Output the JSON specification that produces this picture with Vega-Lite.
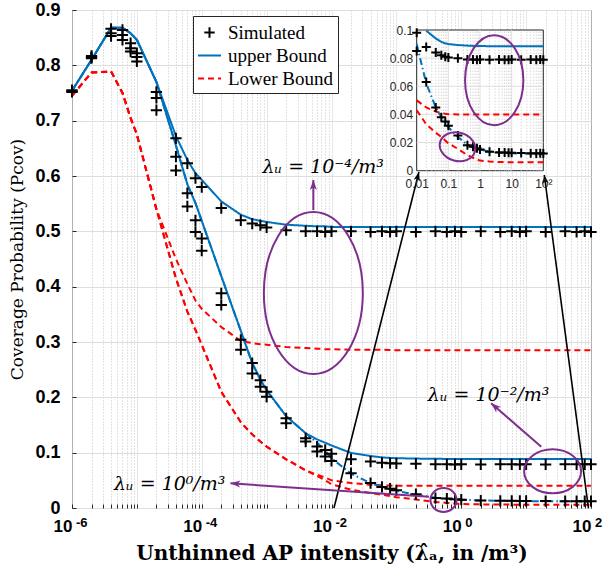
{
"$schema":"https://vega.github.io/schema/vega-lite/v6.json",
"width":519,"height":498,
"autosize":{"type":"none"},
"padding":{"left":72,"top":10,"right":17,"bottom":63},
"background":"white",
"datasets":{
"curves":[
{"x":1e-6,"y":0.755,"kind":"Simulated","lam":"1e-4"},{"x":2e-6,"y":0.817,"kind":"Simulated","lam":"1e-4"},{"x":4e-6,"y":0.866,"kind":"Simulated","lam":"1e-4"},{"x":6e-6,"y":0.864,"kind":"Simulated","lam":"1e-4"},{"x":8e-6,"y":0.840,"kind":"Simulated","lam":"1e-4"},{"x":1e-5,"y":0.822,"kind":"Simulated","lam":"1e-4"},{"x":2e-5,"y":0.752,"kind":"Simulated","lam":"1e-4"},{"x":4e-5,"y":0.668,"kind":"Simulated","lam":"1e-4"},{"x":6e-5,"y":0.623,"kind":"Simulated","lam":"1e-4"},{"x":8e-5,"y":0.596,"kind":"Simulated","lam":"1e-4"},{"x":1e-4,"y":0.580,"kind":"Simulated","lam":"1e-4"},{"x":2e-4,"y":0.542,"kind":"Simulated","lam":"1e-4"},{"x":4e-4,"y":0.520,"kind":"Simulated","lam":"1e-4"},{"x":6e-4,"y":0.514,"kind":"Simulated","lam":"1e-4"},{"x":8e-4,"y":0.511,"kind":"Simulated","lam":"1e-4"},{"x":0.001,"y":0.507,"kind":"Simulated","lam":"1e-4"},{"x":0.002,"y":0.502,"kind":"Simulated","lam":"1e-4"},{"x":0.004,"y":0.500,"kind":"Simulated","lam":"1e-4"},{"x":0.006,"y":0.500,"kind":"Simulated","lam":"1e-4"},{"x":0.008,"y":0.499,"kind":"Simulated","lam":"1e-4"},{"x":0.01,"y":0.500,"kind":"Simulated","lam":"1e-4"},{"x":0.02,"y":0.500,"kind":"Simulated","lam":"1e-4"},{"x":0.04,"y":0.499,"kind":"Simulated","lam":"1e-4"},{"x":0.06,"y":0.500,"kind":"Simulated","lam":"1e-4"},{"x":0.08,"y":0.499,"kind":"Simulated","lam":"1e-4"},{"x":0.1,"y":0.500,"kind":"Simulated","lam":"1e-4"},{"x":0.2,"y":0.499,"kind":"Simulated","lam":"1e-4"},{"x":0.4,"y":0.500,"kind":"Simulated","lam":"1e-4"},{"x":0.6,"y":0.499,"kind":"Simulated","lam":"1e-4"},{"x":0.8,"y":0.500,"kind":"Simulated","lam":"1e-4"},{"x":1,"y":0.499,"kind":"Simulated","lam":"1e-4"},{"x":2,"y":0.500,"kind":"Simulated","lam":"1e-4"},{"x":4,"y":0.499,"kind":"Simulated","lam":"1e-4"},{"x":6,"y":0.500,"kind":"Simulated","lam":"1e-4"},{"x":8,"y":0.499,"kind":"Simulated","lam":"1e-4"},{"x":10,"y":0.500,"kind":"Simulated","lam":"1e-4"},{"x":20,"y":0.499,"kind":"Simulated","lam":"1e-4"},{"x":40,"y":0.500,"kind":"Simulated","lam":"1e-4"},{"x":60,"y":0.499,"kind":"Simulated","lam":"1e-4"},{"x":80,"y":0.500,"kind":"Simulated","lam":"1e-4"},{"x":100,"y":0.499,"kind":"Simulated","lam":"1e-4"},
{"x":1e-6,"y":0.753,"kind":"Simulated","lam":"1e-2"},{"x":2e-6,"y":0.815,"kind":"Simulated","lam":"1e-2"},{"x":4e-6,"y":0.858,"kind":"Simulated","lam":"1e-2"},{"x":6e-6,"y":0.855,"kind":"Simulated","lam":"1e-2"},{"x":8e-6,"y":0.831,"kind":"Simulated","lam":"1e-2"},{"x":1e-5,"y":0.815,"kind":"Simulated","lam":"1e-2"},{"x":2e-5,"y":0.741,"kind":"Simulated","lam":"1e-2"},{"x":4e-5,"y":0.635,"kind":"Simulated","lam":"1e-2"},{"x":6e-5,"y":0.569,"kind":"Simulated","lam":"1e-2"},{"x":8e-5,"y":0.520,"kind":"Simulated","lam":"1e-2"},{"x":1e-4,"y":0.487,"kind":"Simulated","lam":"1e-2"},{"x":2e-4,"y":0.388,"kind":"Simulated","lam":"1e-2"},{"x":4e-4,"y":0.304,"kind":"Simulated","lam":"1e-2"},{"x":6e-4,"y":0.262,"kind":"Simulated","lam":"1e-2"},{"x":8e-4,"y":0.231,"kind":"Simulated","lam":"1e-2"},{"x":0.001,"y":0.210,"kind":"Simulated","lam":"1e-2"},{"x":0.002,"y":0.162,"kind":"Simulated","lam":"1e-2"},{"x":0.004,"y":0.126,"kind":"Simulated","lam":"1e-2"},{"x":0.006,"y":0.111,"kind":"Simulated","lam":"1e-2"},{"x":0.008,"y":0.105,"kind":"Simulated","lam":"1e-2"},{"x":0.01,"y":0.098,"kind":"Simulated","lam":"1e-2"},{"x":0.02,"y":0.088,"kind":"Simulated","lam":"1e-2"},{"x":0.04,"y":0.084,"kind":"Simulated","lam":"1e-2"},{"x":0.06,"y":0.082,"kind":"Simulated","lam":"1e-2"},{"x":0.08,"y":0.081,"kind":"Simulated","lam":"1e-2"},{"x":0.1,"y":0.0805,"kind":"Simulated","lam":"1e-2"},{"x":0.2,"y":0.0800,"kind":"Simulated","lam":"1e-2"},{"x":0.4,"y":0.0790,"kind":"Simulated","lam":"1e-2"},{"x":0.6,"y":0.0790,"kind":"Simulated","lam":"1e-2"},{"x":0.8,"y":0.0788,"kind":"Simulated","lam":"1e-2"},{"x":1,"y":0.0790,"kind":"Simulated","lam":"1e-2"},{"x":2,"y":0.0788,"kind":"Simulated","lam":"1e-2"},{"x":4,"y":0.0790,"kind":"Simulated","lam":"1e-2"},{"x":6,"y":0.0789,"kind":"Simulated","lam":"1e-2"},{"x":8,"y":0.0788,"kind":"Simulated","lam":"1e-2"},{"x":10,"y":0.0790,"kind":"Simulated","lam":"1e-2"},{"x":20,"y":0.0788,"kind":"Simulated","lam":"1e-2"},{"x":40,"y":0.0790,"kind":"Simulated","lam":"1e-2"},{"x":60,"y":0.0789,"kind":"Simulated","lam":"1e-2"},{"x":80,"y":0.0790,"kind":"Simulated","lam":"1e-2"},{"x":100,"y":0.0789,"kind":"Simulated","lam":"1e-2"},
{"x":1e-6,"y":0.752,"kind":"Simulated","lam":"1e0"},{"x":2e-6,"y":0.813,"kind":"Simulated","lam":"1e0"},{"x":4e-6,"y":0.853,"kind":"Simulated","lam":"1e0"},{"x":6e-6,"y":0.846,"kind":"Simulated","lam":"1e0"},{"x":8e-6,"y":0.825,"kind":"Simulated","lam":"1e0"},{"x":1e-5,"y":0.807,"kind":"Simulated","lam":"1e0"},{"x":2e-5,"y":0.719,"kind":"Simulated","lam":"1e0"},{"x":4e-5,"y":0.610,"kind":"Simulated","lam":"1e0"},{"x":6e-5,"y":0.545,"kind":"Simulated","lam":"1e0"},{"x":8e-5,"y":0.499,"kind":"Simulated","lam":"1e0"},{"x":1e-4,"y":0.465,"kind":"Simulated","lam":"1e0"},{"x":2e-4,"y":0.367,"kind":"Simulated","lam":"1e0"},{"x":4e-4,"y":0.286,"kind":"Simulated","lam":"1e0"},{"x":6e-4,"y":0.243,"kind":"Simulated","lam":"1e0"},{"x":8e-4,"y":0.219,"kind":"Simulated","lam":"1e0"},{"x":0.001,"y":0.201,"kind":"Simulated","lam":"1e0"},{"x":0.002,"y":0.153,"kind":"Simulated","lam":"1e0"},{"x":0.004,"y":0.120,"kind":"Simulated","lam":"1e0"},{"x":0.006,"y":0.102,"kind":"Simulated","lam":"1e0"},{"x":0.008,"y":0.093,"kind":"Simulated","lam":"1e0"},{"x":0.01,"y":0.085,"kind":"Simulated","lam":"1e0"},{"x":0.02,"y":0.063,"kind":"Simulated","lam":"1e0"},{"x":0.04,"y":0.045,"kind":"Simulated","lam":"1e0"},{"x":0.06,"y":0.038,"kind":"Simulated","lam":"1e0"},{"x":0.08,"y":0.035,"kind":"Simulated","lam":"1e0"},{"x":0.1,"y":0.032,"kind":"Simulated","lam":"1e0"},{"x":0.2,"y":0.025,"kind":"Simulated","lam":"1e0"},{"x":0.4,"y":0.018,"kind":"Simulated","lam":"1e0"},{"x":0.6,"y":0.017,"kind":"Simulated","lam":"1e0"},{"x":0.8,"y":0.016,"kind":"Simulated","lam":"1e0"},{"x":1,"y":0.015,"kind":"Simulated","lam":"1e0"},{"x":2,"y":0.0135,"kind":"Simulated","lam":"1e0"},{"x":4,"y":0.013,"kind":"Simulated","lam":"1e0"},{"x":6,"y":0.013,"kind":"Simulated","lam":"1e0"},{"x":8,"y":0.0128,"kind":"Simulated","lam":"1e0"},{"x":10,"y":0.0128,"kind":"Simulated","lam":"1e0"},{"x":20,"y":0.0125,"kind":"Simulated","lam":"1e0"},{"x":40,"y":0.0124,"kind":"Simulated","lam":"1e0"},{"x":60,"y":0.0123,"kind":"Simulated","lam":"1e0"},{"x":80,"y":0.0124,"kind":"Simulated","lam":"1e0"},{"x":100,"y":0.0123,"kind":"Simulated","lam":"1e0"},
{"x":1e-6,"y":0.754,"kind":"upper Bound","lam":"1e-4"},{"x":2e-6,"y":0.810,"kind":"upper Bound","lam":"1e-4"},{"x":4e-6,"y":0.868,"kind":"upper Bound","lam":"1e-4"},{"x":6e-6,"y":0.868,"kind":"upper Bound","lam":"1e-4"},{"x":8e-6,"y":0.858,"kind":"upper Bound","lam":"1e-4"},{"x":1e-5,"y":0.846,"kind":"upper Bound","lam":"1e-4"},{"x":2e-5,"y":0.770,"kind":"upper Bound","lam":"1e-4"},{"x":4e-5,"y":0.672,"kind":"upper Bound","lam":"1e-4"},{"x":6e-5,"y":0.629,"kind":"upper Bound","lam":"1e-4"},{"x":8e-5,"y":0.605,"kind":"upper Bound","lam":"1e-4"},{"x":1e-4,"y":0.593,"kind":"upper Bound","lam":"1e-4"},{"x":2e-4,"y":0.554,"kind":"upper Bound","lam":"1e-4"},{"x":4e-4,"y":0.530,"kind":"upper Bound","lam":"1e-4"},{"x":6e-4,"y":0.522,"kind":"upper Bound","lam":"1e-4"},{"x":8e-4,"y":0.519,"kind":"upper Bound","lam":"1e-4"},{"x":0.001,"y":0.517,"kind":"upper Bound","lam":"1e-4"},{"x":0.002,"y":0.512,"kind":"upper Bound","lam":"1e-4"},{"x":0.004,"y":0.510,"kind":"upper Bound","lam":"1e-4"},{"x":0.006,"y":0.509,"kind":"upper Bound","lam":"1e-4"},{"x":0.008,"y":0.509,"kind":"upper Bound","lam":"1e-4"},{"x":0.01,"y":0.508,"kind":"upper Bound","lam":"1e-4"},{"x":0.02,"y":0.508,"kind":"upper Bound","lam":"1e-4"},{"x":0.04,"y":0.508,"kind":"upper Bound","lam":"1e-4"},{"x":0.06,"y":0.508,"kind":"upper Bound","lam":"1e-4"},{"x":0.08,"y":0.508,"kind":"upper Bound","lam":"1e-4"},{"x":0.1,"y":0.508,"kind":"upper Bound","lam":"1e-4"},{"x":0.2,"y":0.508,"kind":"upper Bound","lam":"1e-4"},{"x":0.4,"y":0.508,"kind":"upper Bound","lam":"1e-4"},{"x":0.6,"y":0.508,"kind":"upper Bound","lam":"1e-4"},{"x":0.8,"y":0.508,"kind":"upper Bound","lam":"1e-4"},{"x":1,"y":0.508,"kind":"upper Bound","lam":"1e-4"},{"x":2,"y":0.508,"kind":"upper Bound","lam":"1e-4"},{"x":4,"y":0.508,"kind":"upper Bound","lam":"1e-4"},{"x":6,"y":0.508,"kind":"upper Bound","lam":"1e-4"},{"x":8,"y":0.508,"kind":"upper Bound","lam":"1e-4"},{"x":10,"y":0.508,"kind":"upper Bound","lam":"1e-4"},{"x":20,"y":0.508,"kind":"upper Bound","lam":"1e-4"},{"x":40,"y":0.508,"kind":"upper Bound","lam":"1e-4"},{"x":60,"y":0.508,"kind":"upper Bound","lam":"1e-4"},{"x":80,"y":0.508,"kind":"upper Bound","lam":"1e-4"},{"x":100,"y":0.508,"kind":"upper Bound","lam":"1e-4"},
{"x":1e-6,"y":0.754,"kind":"upper Bound","lam":"1e-2"},{"x":2e-6,"y":0.810,"kind":"upper Bound","lam":"1e-2"},{"x":4e-6,"y":0.868,"kind":"upper Bound","lam":"1e-2"},{"x":6e-6,"y":0.868,"kind":"upper Bound","lam":"1e-2"},{"x":8e-6,"y":0.858,"kind":"upper Bound","lam":"1e-2"},{"x":1e-5,"y":0.846,"kind":"upper Bound","lam":"1e-2"},{"x":2e-5,"y":0.770,"kind":"upper Bound","lam":"1e-2"},{"x":4e-5,"y":0.655,"kind":"upper Bound","lam":"1e-2"},{"x":6e-5,"y":0.585,"kind":"upper Bound","lam":"1e-2"},{"x":8e-5,"y":0.551,"kind":"upper Bound","lam":"1e-2"},{"x":1e-4,"y":0.519,"kind":"upper Bound","lam":"1e-2"},{"x":2e-4,"y":0.419,"kind":"upper Bound","lam":"1e-2"},{"x":4e-4,"y":0.320,"kind":"upper Bound","lam":"1e-2"},{"x":6e-4,"y":0.262,"kind":"upper Bound","lam":"1e-2"},{"x":8e-4,"y":0.232,"kind":"upper Bound","lam":"1e-2"},{"x":0.001,"y":0.213,"kind":"upper Bound","lam":"1e-2"},{"x":0.002,"y":0.166,"kind":"upper Bound","lam":"1e-2"},{"x":0.004,"y":0.135,"kind":"upper Bound","lam":"1e-2"},{"x":0.006,"y":0.124,"kind":"upper Bound","lam":"1e-2"},{"x":0.008,"y":0.118,"kind":"upper Bound","lam":"1e-2"},{"x":0.01,"y":0.113,"kind":"upper Bound","lam":"1e-2"},{"x":0.02,"y":0.0995,"kind":"upper Bound","lam":"1e-2"},{"x":0.04,"y":0.094,"kind":"upper Bound","lam":"1e-2"},{"x":0.06,"y":0.0915,"kind":"upper Bound","lam":"1e-2"},{"x":0.08,"y":0.0905,"kind":"upper Bound","lam":"1e-2"},{"x":0.1,"y":0.090,"kind":"upper Bound","lam":"1e-2"},{"x":0.2,"y":0.0893,"kind":"upper Bound","lam":"1e-2"},{"x":0.4,"y":0.0889,"kind":"upper Bound","lam":"1e-2"},{"x":0.6,"y":0.0887,"kind":"upper Bound","lam":"1e-2"},{"x":0.8,"y":0.0886,"kind":"upper Bound","lam":"1e-2"},{"x":1,"y":0.0886,"kind":"upper Bound","lam":"1e-2"},{"x":2,"y":0.0885,"kind":"upper Bound","lam":"1e-2"},{"x":4,"y":0.0885,"kind":"upper Bound","lam":"1e-2"},{"x":6,"y":0.0885,"kind":"upper Bound","lam":"1e-2"},{"x":8,"y":0.0885,"kind":"upper Bound","lam":"1e-2"},{"x":10,"y":0.0885,"kind":"upper Bound","lam":"1e-2"},{"x":20,"y":0.0885,"kind":"upper Bound","lam":"1e-2"},{"x":40,"y":0.0885,"kind":"upper Bound","lam":"1e-2"},{"x":60,"y":0.0885,"kind":"upper Bound","lam":"1e-2"},{"x":80,"y":0.0885,"kind":"upper Bound","lam":"1e-2"},{"x":100,"y":0.0885,"kind":"upper Bound","lam":"1e-2"},
{"x":1e-6,"y":0.754,"kind":"upper Bound","lam":"1e0"},{"x":2e-6,"y":0.810,"kind":"upper Bound","lam":"1e0"},{"x":4e-6,"y":0.868,"kind":"upper Bound","lam":"1e0"},{"x":6e-6,"y":0.868,"kind":"upper Bound","lam":"1e0"},{"x":8e-6,"y":0.858,"kind":"upper Bound","lam":"1e0"},{"x":1e-5,"y":0.846,"kind":"upper Bound","lam":"1e0"},{"x":2e-5,"y":0.770,"kind":"upper Bound","lam":"1e0"},{"x":4e-5,"y":0.655,"kind":"upper Bound","lam":"1e0"},{"x":6e-5,"y":0.585,"kind":"upper Bound","lam":"1e0"},{"x":8e-5,"y":0.551,"kind":"upper Bound","lam":"1e0"},{"x":1e-4,"y":0.519,"kind":"upper Bound","lam":"1e0"},{"x":2e-4,"y":0.419,"kind":"upper Bound","lam":"1e0"},{"x":4e-4,"y":0.320,"kind":"upper Bound","lam":"1e0"},{"x":6e-4,"y":0.262,"kind":"upper Bound","lam":"1e0"},{"x":8e-4,"y":0.232,"kind":"upper Bound","lam":"1e0"},{"x":0.001,"y":0.213,"kind":"upper Bound","lam":"1e0"},{"x":0.002,"y":0.166,"kind":"upper Bound","lam":"1e0"},{"x":0.004,"y":0.135,"kind":"upper Bound","lam":"1e0"},{"x":0.006,"y":0.118,"kind":"upper Bound","lam":"1e0"},{"x":0.008,"y":0.104,"kind":"upper Bound","lam":"1e0"},{"x":0.01,"y":0.090,"kind":"upper Bound","lam":"1e0"},{"x":0.02,"y":0.062,"kind":"upper Bound","lam":"1e0"},{"x":0.04,"y":0.045,"kind":"upper Bound","lam":"1e0"},{"x":0.06,"y":0.038,"kind":"upper Bound","lam":"1e0"},{"x":0.08,"y":0.034,"kind":"upper Bound","lam":"1e0"},{"x":0.1,"y":0.031,"kind":"upper Bound","lam":"1e0"},{"x":0.2,"y":0.024,"kind":"upper Bound","lam":"1e0"},{"x":0.4,"y":0.0185,"kind":"upper Bound","lam":"1e0"},{"x":0.6,"y":0.0165,"kind":"upper Bound","lam":"1e0"},{"x":0.8,"y":0.0155,"kind":"upper Bound","lam":"1e0"},{"x":1,"y":0.015,"kind":"upper Bound","lam":"1e0"},{"x":2,"y":0.0137,"kind":"upper Bound","lam":"1e0"},{"x":4,"y":0.013,"kind":"upper Bound","lam":"1e0"},{"x":6,"y":0.0127,"kind":"upper Bound","lam":"1e0"},{"x":8,"y":0.0125,"kind":"upper Bound","lam":"1e0"},{"x":10,"y":0.0124,"kind":"upper Bound","lam":"1e0"},{"x":20,"y":0.0122,"kind":"upper Bound","lam":"1e0"},{"x":40,"y":0.0121,"kind":"upper Bound","lam":"1e0"},{"x":60,"y":0.0121,"kind":"upper Bound","lam":"1e0"},{"x":80,"y":0.012,"kind":"upper Bound","lam":"1e0"},{"x":100,"y":0.012,"kind":"upper Bound","lam":"1e0"},
{"x":1e-6,"y":0.745,"kind":"Lower Bound","lam":"1e-4"},{"x":2e-6,"y":0.787,"kind":"Lower Bound","lam":"1e-4"},{"x":4e-6,"y":0.789,"kind":"Lower Bound","lam":"1e-4"},{"x":6e-6,"y":0.750,"kind":"Lower Bound","lam":"1e-4"},{"x":8e-6,"y":0.705,"kind":"Lower Bound","lam":"1e-4"},{"x":1e-5,"y":0.675,"kind":"Lower Bound","lam":"1e-4"},{"x":2e-5,"y":0.540,"kind":"Lower Bound","lam":"1e-4"},{"x":4e-5,"y":0.450,"kind":"Lower Bound","lam":"1e-4"},{"x":6e-5,"y":0.405,"kind":"Lower Bound","lam":"1e-4"},{"x":8e-5,"y":0.375,"kind":"Lower Bound","lam":"1e-4"},{"x":1e-4,"y":0.360,"kind":"Lower Bound","lam":"1e-4"},{"x":2e-4,"y":0.327,"kind":"Lower Bound","lam":"1e-4"},{"x":4e-4,"y":0.302,"kind":"Lower Bound","lam":"1e-4"},{"x":6e-4,"y":0.298,"kind":"Lower Bound","lam":"1e-4"},{"x":8e-4,"y":0.296,"kind":"Lower Bound","lam":"1e-4"},{"x":0.001,"y":0.295,"kind":"Lower Bound","lam":"1e-4"},{"x":0.002,"y":0.291,"kind":"Lower Bound","lam":"1e-4"},{"x":0.004,"y":0.289,"kind":"Lower Bound","lam":"1e-4"},{"x":0.006,"y":0.288,"kind":"Lower Bound","lam":"1e-4"},{"x":0.008,"y":0.287,"kind":"Lower Bound","lam":"1e-4"},{"x":0.01,"y":0.287,"kind":"Lower Bound","lam":"1e-4"},{"x":0.02,"y":0.286,"kind":"Lower Bound","lam":"1e-4"},{"x":0.04,"y":0.286,"kind":"Lower Bound","lam":"1e-4"},{"x":0.06,"y":0.286,"kind":"Lower Bound","lam":"1e-4"},{"x":0.08,"y":0.2855,"kind":"Lower Bound","lam":"1e-4"},{"x":0.1,"y":0.285,"kind":"Lower Bound","lam":"1e-4"},{"x":0.2,"y":0.285,"kind":"Lower Bound","lam":"1e-4"},{"x":0.4,"y":0.285,"kind":"Lower Bound","lam":"1e-4"},{"x":0.6,"y":0.285,"kind":"Lower Bound","lam":"1e-4"},{"x":0.8,"y":0.285,"kind":"Lower Bound","lam":"1e-4"},{"x":1,"y":0.285,"kind":"Lower Bound","lam":"1e-4"},{"x":2,"y":0.285,"kind":"Lower Bound","lam":"1e-4"},{"x":4,"y":0.285,"kind":"Lower Bound","lam":"1e-4"},{"x":6,"y":0.285,"kind":"Lower Bound","lam":"1e-4"},{"x":8,"y":0.285,"kind":"Lower Bound","lam":"1e-4"},{"x":10,"y":0.285,"kind":"Lower Bound","lam":"1e-4"},{"x":20,"y":0.285,"kind":"Lower Bound","lam":"1e-4"},{"x":40,"y":0.285,"kind":"Lower Bound","lam":"1e-4"},{"x":60,"y":0.285,"kind":"Lower Bound","lam":"1e-4"},{"x":80,"y":0.285,"kind":"Lower Bound","lam":"1e-4"},{"x":100,"y":0.285,"kind":"Lower Bound","lam":"1e-4"},
{"x":1e-6,"y":0.745,"kind":"Lower Bound","lam":"1e-2"},{"x":2e-6,"y":0.787,"kind":"Lower Bound","lam":"1e-2"},{"x":4e-6,"y":0.789,"kind":"Lower Bound","lam":"1e-2"},{"x":6e-6,"y":0.750,"kind":"Lower Bound","lam":"1e-2"},{"x":8e-6,"y":0.705,"kind":"Lower Bound","lam":"1e-2"},{"x":1e-5,"y":0.675,"kind":"Lower Bound","lam":"1e-2"},{"x":2e-5,"y":0.540,"kind":"Lower Bound","lam":"1e-2"},{"x":4e-5,"y":0.415,"kind":"Lower Bound","lam":"1e-2"},{"x":6e-5,"y":0.355,"kind":"Lower Bound","lam":"1e-2"},{"x":8e-5,"y":0.322,"kind":"Lower Bound","lam":"1e-2"},{"x":1e-4,"y":0.295,"kind":"Lower Bound","lam":"1e-2"},{"x":2e-4,"y":0.210,"kind":"Lower Bound","lam":"1e-2"},{"x":4e-4,"y":0.155,"kind":"Lower Bound","lam":"1e-2"},{"x":6e-4,"y":0.133,"kind":"Lower Bound","lam":"1e-2"},{"x":8e-4,"y":0.120,"kind":"Lower Bound","lam":"1e-2"},{"x":0.001,"y":0.111,"kind":"Lower Bound","lam":"1e-2"},{"x":0.002,"y":0.088,"kind":"Lower Bound","lam":"1e-2"},{"x":0.004,"y":0.068,"kind":"Lower Bound","lam":"1e-2"},{"x":0.006,"y":0.060,"kind":"Lower Bound","lam":"1e-2"},{"x":0.008,"y":0.055,"kind":"Lower Bound","lam":"1e-2"},{"x":0.01,"y":0.050,"kind":"Lower Bound","lam":"1e-2"},{"x":0.02,"y":0.045,"kind":"Lower Bound","lam":"1e-2"},{"x":0.04,"y":0.042,"kind":"Lower Bound","lam":"1e-2"},{"x":0.06,"y":0.041,"kind":"Lower Bound","lam":"1e-2"},{"x":0.08,"y":0.0405,"kind":"Lower Bound","lam":"1e-2"},{"x":0.1,"y":0.0402,"kind":"Lower Bound","lam":"1e-2"},{"x":0.2,"y":0.040,"kind":"Lower Bound","lam":"1e-2"},{"x":0.4,"y":0.040,"kind":"Lower Bound","lam":"1e-2"},{"x":0.6,"y":0.040,"kind":"Lower Bound","lam":"1e-2"},{"x":0.8,"y":0.040,"kind":"Lower Bound","lam":"1e-2"},{"x":1,"y":0.040,"kind":"Lower Bound","lam":"1e-2"},{"x":2,"y":0.040,"kind":"Lower Bound","lam":"1e-2"},{"x":4,"y":0.040,"kind":"Lower Bound","lam":"1e-2"},{"x":6,"y":0.040,"kind":"Lower Bound","lam":"1e-2"},{"x":8,"y":0.040,"kind":"Lower Bound","lam":"1e-2"},{"x":10,"y":0.040,"kind":"Lower Bound","lam":"1e-2"},{"x":20,"y":0.040,"kind":"Lower Bound","lam":"1e-2"},{"x":40,"y":0.040,"kind":"Lower Bound","lam":"1e-2"},{"x":60,"y":0.040,"kind":"Lower Bound","lam":"1e-2"},{"x":80,"y":0.040,"kind":"Lower Bound","lam":"1e-2"},{"x":100,"y":0.040,"kind":"Lower Bound","lam":"1e-2"},
{"x":1e-6,"y":0.745,"kind":"Lower Bound","lam":"1e0"},{"x":2e-6,"y":0.787,"kind":"Lower Bound","lam":"1e0"},{"x":4e-6,"y":0.789,"kind":"Lower Bound","lam":"1e0"},{"x":6e-6,"y":0.750,"kind":"Lower Bound","lam":"1e0"},{"x":8e-6,"y":0.705,"kind":"Lower Bound","lam":"1e0"},{"x":1e-5,"y":0.675,"kind":"Lower Bound","lam":"1e0"},{"x":2e-5,"y":0.540,"kind":"Lower Bound","lam":"1e0"},{"x":4e-5,"y":0.415,"kind":"Lower Bound","lam":"1e0"},{"x":6e-5,"y":0.355,"kind":"Lower Bound","lam":"1e0"},{"x":8e-5,"y":0.322,"kind":"Lower Bound","lam":"1e0"},{"x":1e-4,"y":0.295,"kind":"Lower Bound","lam":"1e0"},{"x":2e-4,"y":0.210,"kind":"Lower Bound","lam":"1e0"},{"x":4e-4,"y":0.155,"kind":"Lower Bound","lam":"1e0"},{"x":6e-4,"y":0.133,"kind":"Lower Bound","lam":"1e0"},{"x":8e-4,"y":0.120,"kind":"Lower Bound","lam":"1e0"},{"x":0.001,"y":0.111,"kind":"Lower Bound","lam":"1e0"},{"x":0.002,"y":0.088,"kind":"Lower Bound","lam":"1e0"},{"x":0.004,"y":0.068,"kind":"Lower Bound","lam":"1e0"},{"x":0.006,"y":0.058,"kind":"Lower Bound","lam":"1e0"},{"x":0.008,"y":0.050,"kind":"Lower Bound","lam":"1e0"},{"x":0.01,"y":0.043,"kind":"Lower Bound","lam":"1e0"},{"x":0.02,"y":0.033,"kind":"Lower Bound","lam":"1e0"},{"x":0.04,"y":0.027,"kind":"Lower Bound","lam":"1e0"},{"x":0.06,"y":0.024,"kind":"Lower Bound","lam":"1e0"},{"x":0.08,"y":0.0215,"kind":"Lower Bound","lam":"1e0"},{"x":0.1,"y":0.0195,"kind":"Lower Bound","lam":"1e0"},{"x":0.2,"y":0.0155,"kind":"Lower Bound","lam":"1e0"},{"x":0.4,"y":0.011,"kind":"Lower Bound","lam":"1e0"},{"x":0.6,"y":0.0092,"kind":"Lower Bound","lam":"1e0"},{"x":0.8,"y":0.008,"kind":"Lower Bound","lam":"1e0"},{"x":1,"y":0.0072,"kind":"Lower Bound","lam":"1e0"},{"x":2,"y":0.0066,"kind":"Lower Bound","lam":"1e0"},{"x":4,"y":0.0062,"kind":"Lower Bound","lam":"1e0"},{"x":6,"y":0.0061,"kind":"Lower Bound","lam":"1e0"},{"x":8,"y":0.006,"kind":"Lower Bound","lam":"1e0"},{"x":10,"y":0.006,"kind":"Lower Bound","lam":"1e0"},{"x":20,"y":0.006,"kind":"Lower Bound","lam":"1e0"},{"x":40,"y":0.006,"kind":"Lower Bound","lam":"1e0"},{"x":60,"y":0.006,"kind":"Lower Bound","lam":"1e0"},{"x":80,"y":0.006,"kind":"Lower Bound","lam":"1e0"},{"x":100,"y":0.006,"kind":"Lower Bound","lam":"1e0"}
],
"ellipses":[{"id":"E1","x":0.00525,"y":0.3886},{"id":"E4","x":25.6,"y":0.0663},{"id":"E5","x":0.533,"y":0.0145},{"id":"E2","x":2.81,"y":0.0643},{"id":"E3","x":0.1945,"y":0.017}],
"arrows":[{"id":"B1","x":0.0109,"y":0,"x2":0.2228,"y2":0.6073},{"id":"B2","x":91.2,"y":0,"x2":19.05,"y2":0.6018},{"id":"A1","x":0.00525,"y":0.5386,"x2":0.00525,"y2":0.5928},{"id":"A2","x":17.1,"y":0.1108,"x2":2.888,"y2":0.1892},{"id":"A3","x":0.318,"y":0.0204,"x2":0.0002767,"y2":0.0446}],
"notes":[{"x":0.00745,"y":0.6163,"t":"λᵤ = 10⁻⁴/m³"},{"x":2.64,"y":0.205,"t":"λᵤ = 10⁻²/m³"},{"x":0.0000321,"y":0.0425,"t":"λᵤ = 10⁰/m³"}],
"exps":[{"v":1e-6,"t":"-6"},{"v":1e-4,"t":"-4"},{"v":0.01,"t":"-2"},{"v":1,"t":"0"},{"v":100,"t":"2"}],
"igx":[{"v":0.02,"m":0},{"v":0.03,"m":0},{"v":0.04,"m":0},{"v":0.05,"m":0},{"v":0.06,"m":0},{"v":0.07,"m":0},{"v":0.08,"m":0},{"v":0.09,"m":0},{"v":0.1,"m":1},{"v":0.2,"m":0},{"v":0.3,"m":0},{"v":0.4,"m":0},{"v":0.5,"m":0},{"v":0.6,"m":0},{"v":0.7,"m":0},{"v":0.8,"m":0},{"v":0.9,"m":0},{"v":1,"m":1},{"v":2,"m":0},{"v":3,"m":0},{"v":4,"m":0},{"v":5,"m":0},{"v":6,"m":0},{"v":7,"m":0},{"v":8,"m":0},{"v":9,"m":0},{"v":10,"m":1},{"v":20,"m":0},{"v":30,"m":0},{"v":40,"m":0},{"v":50,"m":0},{"v":60,"m":0},{"v":70,"m":0},{"v":80,"m":0},{"v":90,"m":0}],
"igy":[{"v":0.02},{"v":0.04},{"v":0.06},{"v":0.08}]
},
"layer":[
{"layer":[
{"data":{"name":"curves"},
 "transform":[{"filter":"datum.kind != 'Simulated' && !(datum.kind == 'upper Bound' && datum.lam == '1e0')"}],
 "mark":{"type":"line","strokeWidth":2},
 "encoding":{
  "x":{"field":"x","type":"quantitative","scale":{"type":"log","domain":[1e-6,100],"nice":false},
   "axis":{"title":"Unthinned AP intensity (λ̂ₐ, in /m³)","orient":"bottom",
    "values":[1e-6,2e-6,3e-6,4e-6,5e-6,6e-6,7e-6,8e-6,9e-6,1e-5,2e-5,3e-5,4e-5,5e-5,6e-5,7e-5,8e-5,9e-5,1e-4,2e-4,3e-4,4e-4,5e-4,6e-4,7e-4,8e-4,9e-4,0.001,0.002,0.003,0.004,0.005,0.006,0.007,0.008,0.009,0.01,0.02,0.03,0.04,0.05,0.06,0.07,0.08,0.09,0.1,0.2,0.3,0.4,0.5,0.6,0.7,0.8,0.9,1,2,3,4,5,6,7,8,9,10,20,30,40,50,60,70,80,90,100],
    "labelExpr":"(abs(log(datum.value)/LN10 - round(log(datum.value)/LN10)) < 0.001 && round(log(datum.value)/LN10) % 2 == 0) ? '10' : ''",
    "labelFont":"Liberation Sans","labelFontWeight":"bold","labelFontSize":17,"labelColor":"#000",
    "labelOffset":-9.5,"labelPadding":14.5,"labelOverlap":false,"labelFlush":false,"labelBound":false,
    "ticks":true,"tickSize":-4,"tickColor":"#262626",
    "grid":true,
    "gridColor":{"condition":{"test":"abs(log(datum.value)/LN10 - round(log(datum.value)/LN10)) < 0.001","value":"#dedede"},"value":"#c4c4c4"},
    "gridDash":{"condition":{"test":"abs(log(datum.value)/LN10 - round(log(datum.value)/LN10)) < 0.001","value":[1,0]},"value":[1,2]},
    "domain":false,
    "titleFont":"DejaVu Serif","titleFontWeight":"bold","titleFontSize":20,"titleColor":"#000","titleY":51,"titleBaseline":"alphabetic"}},
  "y":{"field":"y","type":"quantitative","scale":{"domain":[0,0.9],"nice":false,"zero":false},
   "axis":{"title":"Coverage Probability (Pcov)","orient":"left",
    "values":[0,0.1,0.2,0.3,0.4,0.5,0.6,0.7,0.8,0.9],
    "labelExpr":"datum.value == 0 ? '0' : format(datum.value, '.1f')",
    "labelFont":"Liberation Sans","labelFontWeight":"bold","labelFontSize":18,"labelColor":"#000",
    "labelPadding":16,"labelOverlap":false,"labelFlush":false,"labelBound":false,
    "ticks":true,"tickSize":-4,"tickColor":"#262626",
    "grid":true,"gridColor":"#dedede","domain":false,
    "titleFont":"DejaVu Serif","titleFontWeight":"normal","titleFontSize":17,"titleColor":"#000","titleX":-55,"titleY":249,"titleBaseline":"middle"}},
  "color":{"field":"kind","type":"nominal","scale":{"domain":["Simulated","upper Bound","Lower Bound"],"range":["#000000","#0072BD","#FF0000"]},
   "legend":{"title":null,"orient":"none","legendX":121,"legendY":6,"strokeColor":"#262626","fillColor":"white","padding":4,"labelFont":"Liberation Serif","labelFontSize":19,"labelColor":"#000","symbolSize":529,"symbolStrokeWidth":2,"rowPadding":-3,"labelOffset":6}},
  "strokeDash":{"field":"kind","type":"nominal","scale":{"domain":["Simulated","upper Bound","Lower Bound"],"range":[[1,0],[1,0],[6,4]]},
   "legend":{"title":null,"orient":"none","legendX":121,"legendY":6}},
  "detail":{"field":"lam"}
 }},
{"data":{"name":"curves"},
 "transform":[{"filter":"datum.kind == 'upper Bound' && datum.lam == '1e0'"}],
 "mark":{"type":"line","strokeWidth":2,"color":"#0072BD","strokeDash":[7,3,1.5,3]},
 "encoding":{"x":{"field":"x","type":"quantitative"},"y":{"field":"y","type":"quantitative"}}},
{"data":{"name":"curves"},
 "transform":[{"filter":"datum.kind == 'Simulated'"}],
 "mark":{"type":"point","filled":false,"strokeWidth":2,"size":625,"opacity":1},
 "encoding":{"x":{"field":"x","type":"quantitative"},"y":{"field":"y","type":"quantitative"},
  "color":{"field":"kind","type":"nominal","scale":{"domain":["Simulated","upper Bound","Lower Bound"],"range":["#000000","#0072BD","#FF0000"]}},
  "shape":{"field":"kind","type":"nominal","scale":{"domain":["Simulated","upper Bound","Lower Bound"],"range":["M-0.45,0L0.45,0M0,-0.45L0,0.45","stroke","stroke"]},
   "legend":{"title":null,"orient":"none","legendX":121,"legendY":6}}}},
{"data":{"name":"ellipses"},"transform":[{"filter":"datum.id == 'E1'"}],
 "mark":{"type":"point","shape":"M0.611,0C0.611,0.5523,0.3375,1,0,1C-0.3375,1,-0.611,0.5523,-0.611,0C-0.611,-0.5523,-0.3375,-1,0,-1C0.3375,-1,0.611,-0.5523,0.611,0Z","size":26244,"filled":false,"stroke":"#7E2F8E","strokeWidth":2,"opacity":1},
 "encoding":{"x":{"field":"x","type":"quantitative"},"y":{"field":"y","type":"quantitative"}}},
{"data":{"name":"ellipses"},"transform":[{"filter":"datum.id == 'E4'"}],
 "mark":{"type":"point","shape":"M1.295,0C1.295,0.5523,0.7152,1,0,1C-0.7152,1,-1.295,0.5523,-1.295,0C-1.295,-0.5523,-0.7152,-1,0,-1C0.7152,-1,1.295,-0.5523,1.295,0Z","size":1936,"filled":false,"stroke":"#7E2F8E","strokeWidth":2,"opacity":1},
 "encoding":{"x":{"field":"x","type":"quantitative"},"y":{"field":"y","type":"quantitative"}}},
{"data":{"name":"ellipses"},"transform":[{"filter":"datum.id == 'E5'"}],
 "mark":{"type":"point","shape":"M1.083,0C1.083,0.5523,0.598,1,0,1C-0.598,1,-1.083,0.5523,-1.083,0C-1.083,-0.5523,-0.598,-1,0,-1C0.598,-1,1.083,-0.5523,1.083,0Z","size":576,"filled":false,"stroke":"#7E2F8E","strokeWidth":2,"opacity":1},
 "encoding":{"x":{"field":"x","type":"quantitative"},"y":{"field":"y","type":"quantitative"}}},
{"data":{"name":"arrows"},"transform":[{"filter":"datum.id == 'B1' || datum.id == 'B2'"}],
 "mark":{"type":"rule","color":"#000","strokeWidth":1.6},
 "encoding":{"x":{"field":"x","type":"quantitative"},"y":{"field":"y","type":"quantitative"},"x2":{"field":"x2"},"y2":{"field":"y2"}}},
{"data":{"name":"arrows"},"transform":[{"filter":"datum.id != 'B1' && datum.id != 'B2'"}],
 "mark":{"type":"rule","color":"#7E2F8E","strokeWidth":2},
 "encoding":{"x":{"field":"x","type":"quantitative"},"y":{"field":"y","type":"quantitative"},"x2":{"field":"x2"},"y2":{"field":"y2"}}},
{"data":{"name":"arrows"},"transform":[{"filter":"datum.id == 'B1'"}],
 "mark":{"type":"point","shape":"M0,0L0.8,2.2L0,1.6L-0.8,2.2Z","size":64,"angle":14.2,"filled":true,"color":"#000","strokeWidth":0,"opacity":1},
 "encoding":{"x":{"field":"x2","type":"quantitative"},"y":{"field":"y2","type":"quantitative"}}},
{"data":{"name":"arrows"},"transform":[{"filter":"datum.id == 'B2'"}],
 "mark":{"type":"point","shape":"M0,0L0.8,2.2L0,1.6L-0.8,2.2Z","size":64,"angle":352.4,"filled":true,"color":"#000","strokeWidth":0,"opacity":1},
 "encoding":{"x":{"field":"x2","type":"quantitative"},"y":{"field":"y2","type":"quantitative"}}},
{"data":{"name":"arrows"},"transform":[{"filter":"datum.id == 'A1'"}],
 "mark":{"type":"point","shape":"M0,0L0.8,2.2L0,1.6L-0.8,2.2Z","size":81,"angle":0,"filled":true,"color":"#7E2F8E","strokeWidth":0,"opacity":1},
 "encoding":{"x":{"field":"x2","type":"quantitative"},"y":{"field":"y2","type":"quantitative"}}},
{"data":{"name":"arrows"},"transform":[{"filter":"datum.id == 'A2'"}],
 "mark":{"type":"point","shape":"M0,0L0.8,2.2L0,1.6L-0.8,2.2Z","size":81,"angle":311,"filled":true,"color":"#7E2F8E","strokeWidth":0,"opacity":1},
 "encoding":{"x":{"field":"x2","type":"quantitative"},"y":{"field":"y2","type":"quantitative"}}},
{"data":{"name":"arrows"},"transform":[{"filter":"datum.id == 'A3'"}],
 "mark":{"type":"point","shape":"M0,0L0.8,2.2L0,1.6L-0.8,2.2Z","size":81,"angle":274,"filled":true,"color":"#7E2F8E","strokeWidth":0,"opacity":1},
 "encoding":{"x":{"field":"x2","type":"quantitative"},"y":{"field":"y2","type":"quantitative"}}},
{"data":{"name":"notes"},
 "mark":{"type":"text","font":"DejaVu Serif","fontStyle":"italic","fontSize":19,"align":"center","baseline":"middle","color":"#000"},
 "encoding":{"x":{"field":"x","type":"quantitative"},"y":{"field":"y","type":"quantitative"},"text":{"field":"t"}}},
{"data":{"name":"exps"},
 "mark":{"type":"text","font":"Liberation Sans","fontWeight":"bold","fontSize":13,"align":"left","baseline":"middle","dx":4,"dy":15,"color":"#000"},
 "encoding":{"x":{"field":"v","type":"quantitative"},"y":{"datum":0,"type":"quantitative"},"text":{"field":"t"}}}
]},
{"layer":[
{"data":{"values":[{}]},
 "mark":{"type":"rect","fill":"white","stroke":"#262626","strokeWidth":1},
 "encoding":{
  "x":{"datum":0.01,"type":"quantitative","scale":{"type":"log","domain":[0.01,100],"range":[344.7,471.3],"nice":false},
   "axis":{"title":null,"orient":"bottom","offset":-337.3,"values":[0.01,0.1,1,10,100],
    "labelExpr":"datum.value >= 100 ? '10²' : format(datum.value, '~g')",
    "labelFont":"Liberation Sans","labelFontSize":12,"labelColor":"#262626","labelPadding":8,
    "labelOverlap":false,"labelFlush":false,"labelBound":false,"ticks":false,"grid":false,"domain":false,"zindex":1}},
  "x2":{"datum":100},
  "y":{"datum":0,"type":"quantitative","scale":{"domain":[0,0.1],"range":[160.7,20],"nice":false,"zero":false},
   "axis":{"title":null,"orient":"left","offset":-344.7,"values":[0,0.02,0.04,0.06,0.08,0.1],
    "labelExpr":"datum.value == 0 ? '0' : format(datum.value, '.2~f')",
    "labelFont":"Liberation Sans","labelFontSize":12,"labelColor":"#262626","labelPadding":4,
    "labelOverlap":false,"labelFlush":false,"labelBound":false,"ticks":false,"grid":false,"domain":false,"zindex":1}},
  "y2":{"datum":0.1}
 }},
{"data":{"name":"igx"},"transform":[{"filter":"datum.m == 0"}],
 "mark":{"type":"rule","color":"#c4c4c4","strokeWidth":1,"strokeDash":[1,2]},
 "encoding":{"x":{"field":"v","type":"quantitative"},"y":{"datum":0,"type":"quantitative"},"y2":{"datum":0.1}}},
{"data":{"name":"igx"},"transform":[{"filter":"datum.m == 1"}],
 "mark":{"type":"rule","color":"#dedede","strokeWidth":1},
 "encoding":{"x":{"field":"v","type":"quantitative"},"y":{"datum":0,"type":"quantitative"},"y2":{"datum":0.1}}},
{"data":{"name":"igy"},
 "mark":{"type":"rule","color":"#dedede","strokeWidth":1},
 "encoding":{"y":{"field":"v","type":"quantitative"},"x":{"datum":0.01,"type":"quantitative"},"x2":{"datum":100}}},
{"data":{"name":"curves"},
 "transform":[{"filter":"datum.x >= 0.01 && datum.lam != '1e-4' && datum.y <= 0.1 && datum.kind != 'Simulated' && !(datum.kind == 'upper Bound' && datum.lam == '1e0')"}],
 "mark":{"type":"line","strokeWidth":2},
 "encoding":{"x":{"field":"x","type":"quantitative"},"y":{"field":"y","type":"quantitative"},
  "color":{"field":"kind","type":"nominal"},
  "strokeDash":{"field":"kind","type":"nominal"},
  "detail":{"field":"lam"}}},
{"data":{"name":"curves"},
 "transform":[{"filter":"datum.x >= 0.01 && datum.y <= 0.1 && datum.kind == 'upper Bound' && datum.lam == '1e0'"}],
 "mark":{"type":"line","strokeWidth":2,"color":"#0072BD","strokeDash":[7,3,1.5,3]},
 "encoding":{"x":{"field":"x","type":"quantitative"},"y":{"field":"y","type":"quantitative"}}},
{"data":{"name":"curves"},
 "transform":[{"filter":"datum.x >= 0.01 && datum.lam != '1e-4' && datum.y <= 0.1 && datum.kind == 'Simulated'"}],
 "mark":{"type":"point","filled":false,"strokeWidth":2,"size":400,"opacity":1},
 "encoding":{"x":{"field":"x","type":"quantitative"},"y":{"field":"y","type":"quantitative"},
  "color":{"field":"kind","type":"nominal"},
  "shape":{"field":"kind","type":"nominal"}}},
{"data":{"name":"ellipses"},"transform":[{"filter":"datum.id == 'E2'"}],
 "mark":{"type":"point","shape":"M0.648,0C0.648,0.5523,0.358,1,0,1C-0.358,1,-0.648,0.5523,-0.648,0C-0.648,-0.5523,-0.358,-1,0,-1C0.358,-1,0.648,-0.5523,0.648,0Z","size":8100,"filled":false,"stroke":"#7E2F8E","strokeWidth":2,"opacity":1},
 "encoding":{"x":{"field":"x","type":"quantitative"},"y":{"field":"y","type":"quantitative"}}},
{"data":{"name":"ellipses"},"transform":[{"filter":"datum.id == 'E3'"}],
 "mark":{"type":"point","shape":"M1.263,0C1.263,0.5523,0.6975,1,0,1C-0.6975,1,-1.263,0.5523,-1.263,0C-1.263,-0.5523,-0.6975,-1,0,-1C0.6975,-1,1.263,-0.5523,1.263,0Z","size":812,"angle":15,"filled":false,"stroke":"#7E2F8E","strokeWidth":2,"opacity":1},
 "encoding":{"x":{"field":"x","type":"quantitative"},"y":{"field":"y","type":"quantitative"}}}
]}
],
"resolve":{"scale":{"x":"independent","y":"independent"}},
"config":{"view":{"stroke":"#262626","strokeWidth":1}}
}
